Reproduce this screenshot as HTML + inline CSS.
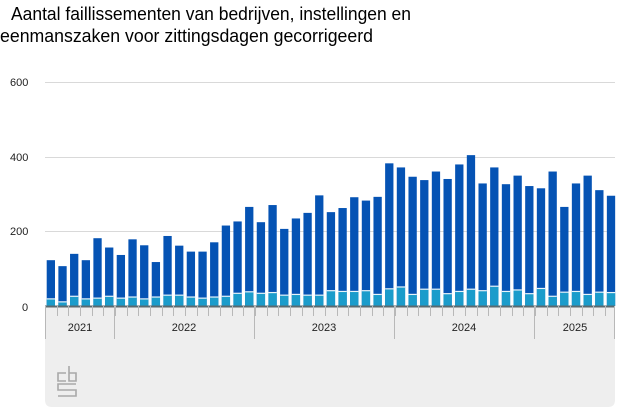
<!DOCTYPE html>
<html><head><meta charset="utf-8"><style>
html,body{margin:0;padding:0;background:#fff;}
svg{display:block;font-family:"Liberation Sans",Arial,sans-serif;}
</style></head><body>
<svg id="s" width="626" height="417" viewBox="0 0 626 417" xmlns="http://www.w3.org/2000/svg">
<text x="11" y="20" font-size="18" fill="#000" textLength="400" lengthAdjust="spacingAndGlyphs">Aantal faillissementen van bedrijven, instellingen en</text>
<text x="0" y="42" font-size="18" fill="#000" textLength="373" lengthAdjust="spacingAndGlyphs">eenmanszaken voor zittingsdagen gecorrigeerd</text>
<g stroke="#d9d9d9" stroke-width="1">
<line x1="45" x2="615" y1="82.5" y2="82.5"/>
<line x1="45" x2="615" y1="157.5" y2="157.5"/>
<line x1="45" x2="615" y1="231.5" y2="231.5"/>
</g>
<g font-size="11" fill="#222">
<text x="10" y="86">600</text>
<text x="10" y="161">400</text>
<text x="10" y="235">200</text>
<text x="22" y="311">0</text>
</g>
<path d="M45 306 H615 V400 Q615 407 608 407 H52 Q45 407 45 400 Z" fill="#eeeeee"/>
<g id="bars"></g>
<line x1="45" x2="615" y1="306.5" y2="306.5" stroke="#5a6a70" stroke-width="2"/>
<g id="ticks" stroke="#b8b8b8" stroke-width="1"></g>
<g stroke="#b8b8b8" stroke-width="1">
<line x1="45.5" x2="45.5" y1="306" y2="339"/>
<line x1="114.5" x2="114.5" y1="306" y2="339"/>
<line x1="254.5" x2="254.5" y1="306" y2="339"/>
<line x1="394.5" x2="394.5" y1="306" y2="339"/>
<line x1="534.5" x2="534.5" y1="306" y2="339"/>
<line x1="614.5" x2="614.5" y1="306" y2="339"/>
</g>
<g font-size="11" fill="#222" text-anchor="middle">
<text x="80" y="331">2021</text>
<text x="184" y="331">2022</text>
<text x="324" y="331">2023</text>
<text x="464" y="331">2024</text>
<text x="575" y="331">2025</text>
</g>
<g fill="none" stroke="#a8a8a8" stroke-width="1.6">
<path d="M66 373 H58 V381 H66"/>
<path d="M69 366 V381 H76 V373 H69"/>
<path d="M76 384 H58 V390 H76 V396 H58"/>
</g>
</svg>
<script>
var tot=[123,107,140,123,182,157,137,179,163,118,188,162,146,146,171,216,227,266,225,271,207,235,250,297,252,263,292,283,293,383,372,347,338,361,341,380,405,329,372,327,350,322,316,361,266,329,350,311,296];
var lo=[18,10,25,18,20,25,20,23,18,23,28,28,23,20,23,25,33,37,33,35,28,30,28,28,40,38,38,40,30,45,50,30,44,44,32,38,44,40,52,38,42,32,46,25,36,38,30,36,35];
var g=document.getElementById('bars'),t=document.getElementById('ticks'),k=0.3725,h='';
for(var i=0;i<tot.length;i++){var x=45+i*11.67+1.7,w=8.3;
var yt=306-tot[i]*k,yl=306-lo[i]*k;
h+='<rect x="'+x+'" y="'+yt+'" width="'+w+'" height="'+(306-yt)+'" fill="#0553b4"/>';
h+='<rect x="'+x+'" y="'+yl+'" width="'+w+'" height="'+(306-yl)+'" fill="#1b9ccb"/>';
h+='<rect x="'+x+'" y="'+(yl-1)+'" width="'+w+'" height="1.2" fill="#e8f4fa"/>';}
g.innerHTML=h;var s='';
for(var i=1;i<49;i++){var x=Math.round(45+i*11.67)+0.5;s+='<line x1="'+x+'" x2="'+x+'" y1="306" y2="316"/>';}
t.innerHTML=s;
</script>
</body></html>
